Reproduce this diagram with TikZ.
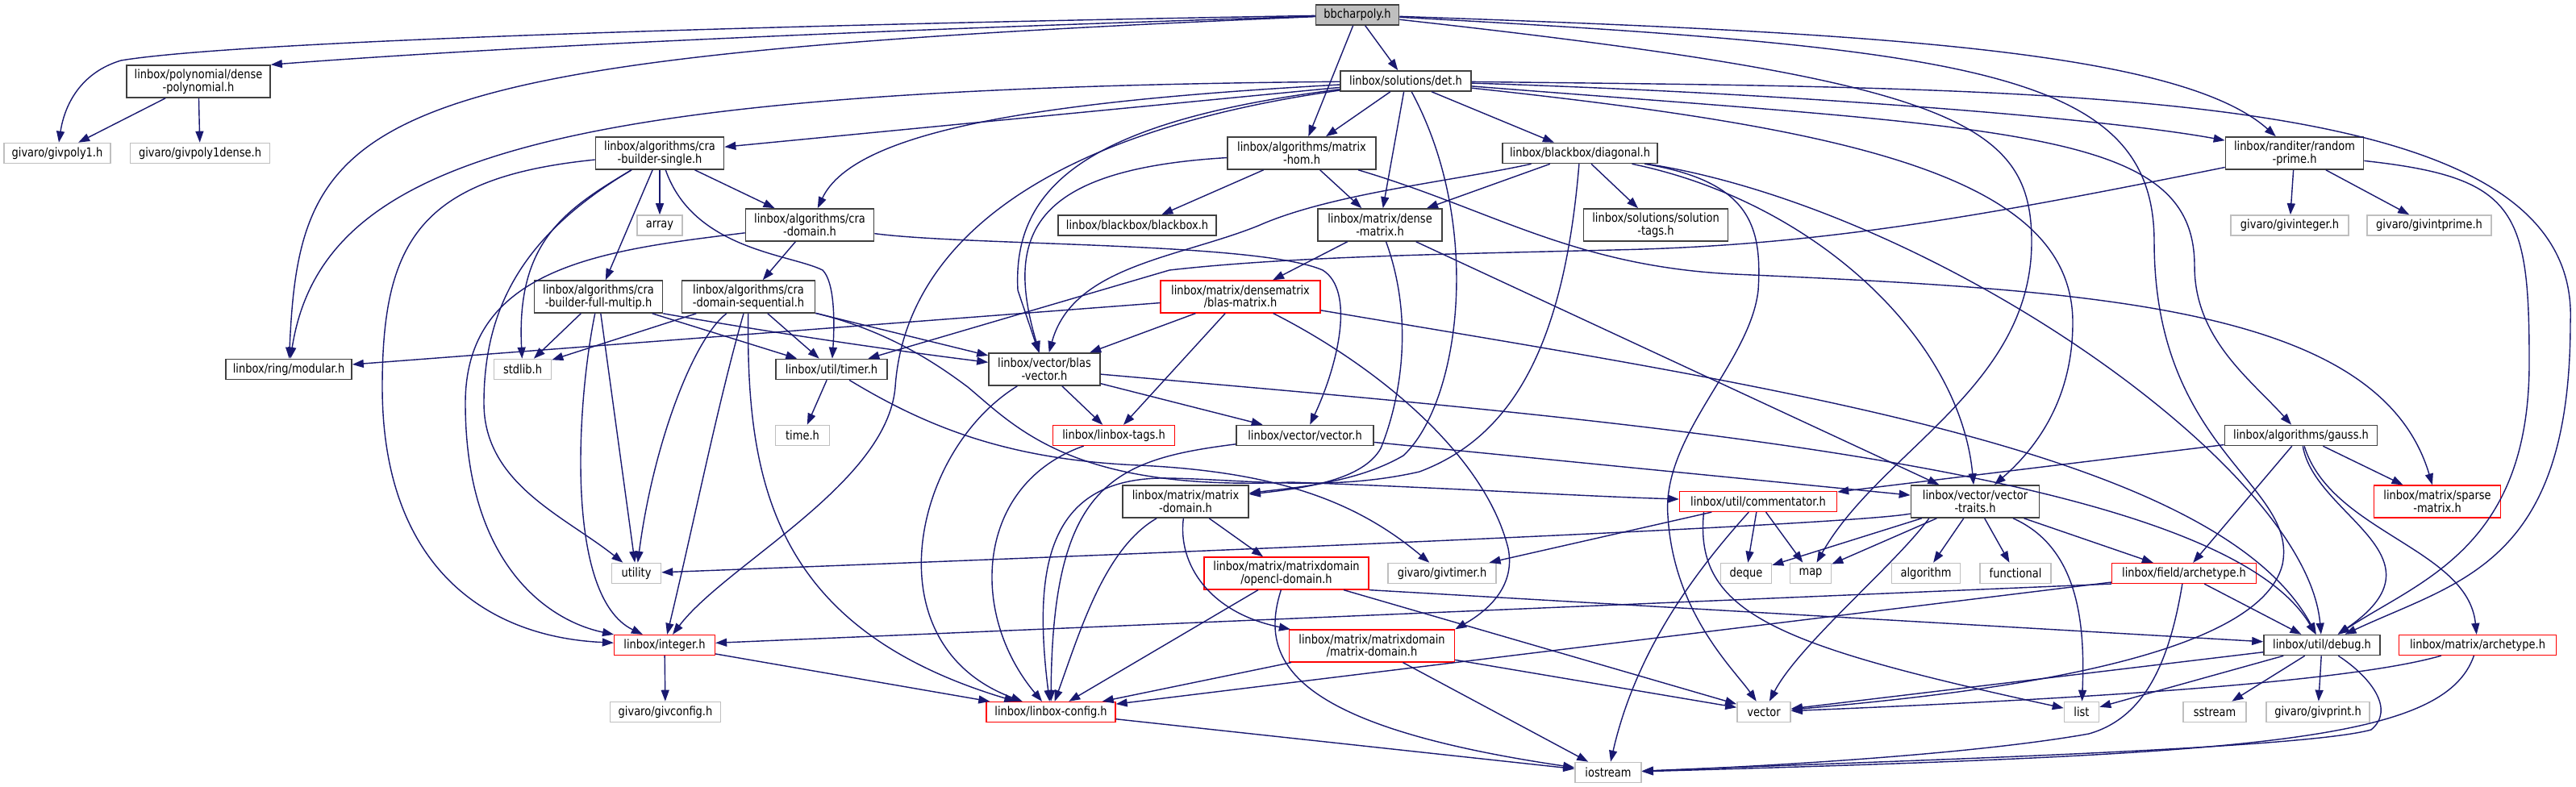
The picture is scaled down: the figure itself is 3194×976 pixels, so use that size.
\documentclass[tikz,border=0pt]{standalone}
\usepackage{fontspec}
\usepackage{tikz}
\usetikzlibrary{arrows.meta}
\newfontfamily\dotfont{DejaVu Sans}[FakeStretch=0.85]
\definecolor{DGEdge}{HTML}{191970}
\definecolor{DGFrame}{HTML}{404040}
\definecolor{DGSys}{HTML}{BFBFBF}
\definecolor{DGRootFill}{HTML}{BFBFBF}
\definecolor{DGTrunc}{HTML}{FF0000}
\tikzset{
  hdr/.style={draw=DGFrame,line width=0.45pt,fill=white,inner sep=0pt,align=center,
              minimum height=0.25cm,font=\dotfont\fontsize{4.35}{4.45}\selectfont},
  tall/.style={minimum height=0.40cm},
  sys/.style={hdr,draw=DGSys},
  trunc/.style={hdr,draw=DGTrunc,line width=0.35pt},
  root/.style={hdr,fill=DGRootFill},
  inc/.style={-{Triangle[length=1.4mm,width=1.0mm]},DGEdge,line width=0.4pt},
}
\begin{document}
\begin{tikzpicture}[x=0.01cm,y=-0.01cm]
  \useasboundingbox (0,0) rectangle (3194,976);
  % the header itself and the first rows
  \node[root,minimum width=1.03cm] (bb) at (1683,18.5) {bbcharpoly.h};
  \node[hdr,tall,minimum width=1.78cm] (dpoly) at (246,101) {linbox/polynomial/dense\\-polynomial.h};
  \node[hdr,minimum width=1.62cm] (det) at (1743,100.5) {linbox/solutions/det.h};
  \node[sys,minimum width=1.32cm] (gpoly) at (71,190) {givaro/givpoly1.h};
  \node[sys,minimum width=1.73cm] (gpolyd) at (248,190) {givaro/givpoly1dense.h};
  \node[hdr,tall,minimum width=1.59cm] (crabs) at (818,190) {linbox/algorithms/cra\\-builder-single.h};
  \node[hdr,tall,minimum width=1.84cm] (mhom) at (1614,190) {linbox/algorithms/matrix\\-hom.h};
  \node[hdr,minimum width=1.92cm] (diag) at (1959,190) {linbox/blackbox/diagonal.h};
  \node[hdr,tall,minimum width=1.71cm] (rprime) at (2845,190) {linbox/randiter/random\\-prime.h};
  \node[sys,minimum width=0.56cm] (array) at (818,279.5) {array};
  \node[hdr,tall,minimum width=1.59cm] (cradom) at (1004,279) {linbox/algorithms/cra\\-domain.h};
  \node[hdr,minimum width=1.96cm] (bbox) at (1410,279.5) {linbox/blackbox/blackbox.h};
  \node[hdr,tall,minimum width=1.54cm] (dmat) at (1711,279) {linbox/matrix/dense\\-matrix.h};
  \node[hdr,tall,minimum width=1.79cm] (soltags) at (2053,279) {linbox/solutions/solution\\-tags.h};
  \node[sys,minimum width=1.46cm] (ginteger) at (2839,279.5) {givaro/givinteger.h};
  \node[sys,minimum width=1.54cm] (gintprime) at (3012,279.5) {givaro/givintprime.h};
  \node[hdr,tall,minimum width=1.59cm] (crafm) at (742,368) {linbox/algorithms/cra\\-builder-full-multip.h};
  \node[hdr,tall,minimum width=1.65cm] (craseq) at (928,368) {linbox/algorithms/cra\\-domain-sequential.h};
  \node[trunc,tall,minimum width=1.98cm] (blasmat) at (1538,368) {linbox/matrix/densematrix\\/blas-matrix.h};
  % middle rows
  \node[hdr,minimum width=1.56cm] (modular) at (358,458) {linbox/ring/modular.h};
  \node[sys,minimum width=0.71cm] (stdlib) at (648,458) {stdlib.h};
  \node[hdr,minimum width=1.38cm] (timer) at (1031,458) {linbox/util/timer.h};
  \node[hdr,tall,minimum width=1.38cm] (blasvec) at (1295,458) {linbox/vector/blas\\-vector.h};
  \node[sys,minimum width=0.67cm] (time) at (995,540) {time.h};
  \node[trunc,minimum width=1.51cm] (tags) at (1381,540) {linbox/linbox-tags.h};
  \node[hdr,minimum width=1.70cm] (vec) at (1618,540) {linbox/vector/vector.h};
  \node[hdr,minimum width=1.89cm] (gauss) at (2853,540) {linbox/algorithms/gauss.h};
  \node[hdr,tall,minimum width=1.56cm] (mdom) at (1470,622) {linbox/matrix/matrix\\-domain.h};
  \node[trunc,minimum width=1.95cm] (comm) at (2180,622) {linbox/util/commentator.h};
  \node[hdr,tall,minimum width=1.59cm] (vtraits) at (2449,622) {linbox/vector/vector\\-traits.h};
  \node[trunc,tall,minimum width=1.57cm] (sparse) at (3022,622) {linbox/matrix/sparse\\-matrix.h};
  \node[sys,minimum width=0.61cm] (utility) at (789,711) {utility};
  \node[trunc,tall,minimum width=2.04cm] (ocl) at (1595,711) {linbox/matrix/matrixdomain\\/opencl-domain.h};
  \node[sys,minimum width=1.34cm] (gtimer) at (1788,711) {givaro/givtimer.h};
  \node[sys,minimum width=0.63cm] (deque) at (2165,711) {deque};
  \node[sys,minimum width=0.51cm] (map) at (2245,711) {map};
  \node[sys,minimum width=0.85cm] (algorithm) at (2388,711) {algorithm};
  \node[sys,minimum width=0.88cm] (functional) at (2499,711) {functional};
  \node[trunc,minimum width=1.79cm] (farch) at (2708,711) {linbox/field/archetype.h};
  % bottom rows
  \node[trunc,minimum width=1.25cm] (integer) at (824,800) {linbox/integer.h};
  \node[trunc,tall,minimum width=2.05cm] (mdmd) at (1701,801) {linbox/matrix/matrixdomain\\/matrix-domain.h};
  \node[hdr,minimum width=1.44cm] (debug) at (2879,800) {linbox/util/debug.h};
  \node[trunc,minimum width=1.95cm] (march) at (3072,800) {linbox/matrix/archetype.h};
  \node[sys,minimum width=1.37cm] (gconfig) at (825,883) {givaro/givconfig.h};
  \node[trunc,minimum width=1.60cm] (config) at (1303,883) {linbox/linbox-config.h};
  \node[sys,minimum width=0.66cm] (vector) at (2187,883) {vector};
  \node[sys,minimum width=0.43cm] (list) at (2581,883) {list};
  \node[sys,minimum width=0.78cm] (sstream) at (2746,883) {sstream};
  \node[sys,minimum width=1.28cm] (gprint) at (2874,883) {givaro/givprint.h};
  \node[sys,minimum width=0.82cm] (iostream) at (1994,958) {iostream};

  % includes of bbcharpoly.h
  \draw[inc] (bb) .. controls (1000,30) and (300,50) .. (150,75) .. controls (100,90) and (80,130) .. (gpoly);
  \draw[inc] (bb) .. controls (1000,40) and (600,60) .. (dpoly.north east);
  \draw[inc] (bb) .. controls (450,70) and (372,130) .. (modular);
  \draw[inc] (bb) -- (det);
  \draw[inc] (bb) -- (mhom);
  \draw[inc] (bb) .. controls (2300,40) and (2700,60) .. (rprime);
  \draw[inc] (bb) .. controls (2420,100) and (2519,150) .. (2519,300) .. controls (2519,480) and (2330,560) .. (map);
  \draw[inc] (bb) .. controls (2450,60) and (2671,90) .. (2671,300) .. controls (2671,560) and (2850,600) .. (2830,700)
    .. controls (2800,820) and (2450,860) .. (vector);
  \draw[inc] (dpoly) -- (gpoly);
  \draw[inc] (dpoly) -- (gpolyd);

  % det.h
  \draw[inc] (det) -- (crabs);
  \draw[inc] (det) .. controls (1300,125) and (1060,160) .. (cradom);
  \draw[inc] (det) .. controls (700,110) and (400,190) .. (modular);
  \draw[inc] (det) -- (mhom);
  \draw[inc] (det) -- (dmat);
  \draw[inc] (det) -- (diag);
  \draw[inc] (det) .. controls (1350,150) and (1255,230) .. (1262,360) -- (blasvec);
  \draw[inc] (det) .. controls (1840,280) and (1810,500) .. (1740,565) .. controls (1680,600) and (1600,605) .. (mdom);
  \draw[inc] (det) .. controls (2200,115) and (2600,145) .. (rprime);
  \draw[inc] (det) .. controls (2500,160) and (2721,160) .. (2721,330) .. controls (2721,420) and (2790,470) .. (gauss);
  \draw[inc] (det) .. controls (2300,160) and (2570,220) .. (2570,400) .. controls (2570,500) and (2520,560) .. (vtraits);
  \draw[inc] (det) .. controls (2600,110) and (3200,110) .. (3187,400) .. controls (3187,700) and (3050,720) .. (debug);
  \draw[inc] (det) .. controls (1250,170) and (1120,330) .. (1110,480) .. controls (1100,600) and (900,700) .. (integer);

  % cra builders and domains
  \draw[inc] (crabs) -- (array);
  \draw[inc] (crabs) -- (cradom);
  \draw[inc] (crabs) -- (crafm);
  \draw[inc] (crabs) .. controls (700,260) and (640,300) .. (stdlib);
  \draw[inc] (crabs) .. controls (860,310) and (980,315) .. (1020,335) .. controls (1035,350) and (1035,400) .. (timer);
  \draw[inc] (crabs) .. controls (650,290) and (600,380) .. (600,500) .. controls (600,600) and (700,640) .. (utility);
  \draw[inc] (crabs) .. controls (520,220) and (474,300) .. (474,480) .. controls (474,700) and (600,790) .. (integer);
  \draw[inc] (cradom) -- (craseq);
  \draw[inc] (cradom) .. controls (750,310) and (577,330) .. (577,500) .. controls (577,700) and (680,770) .. (integer);
  \draw[inc] (cradom) .. controls (1200,305) and (1560,300) .. (1640,335) .. controls (1680,360) and (1660,450) .. (vec);
  \draw[inc] (crafm) -- (stdlib);
  \draw[inc] (crafm) -- (timer);
  \draw[inc] (crafm.south east) .. controls (1000,420) and (1150,440) .. (blasvec);
  \draw[inc] (crafm) -- (utility);
  \draw[inc] (crafm) .. controls (715,500) and (700,740) .. (integer);
  \draw[inc] (craseq) -- (stdlib);
  \draw[inc] (craseq) -- (timer);
  \draw[inc] (craseq) -- (blasvec);
  \draw[inc] (craseq) .. controls (860,420) and (810,550) .. (utility);
  \draw[inc] (craseq) .. controls (890,500) and (860,650) .. (integer);
  \draw[inc] (craseq) .. controls (925,600) and (960,780) .. (config);
  \draw[inc] (craseq) .. controls (1100,410) and (1160,450) .. (1200,480) .. controls (1260,530) and (1330,610) .. (1600,598)
    .. controls (1800,605) and (1950,615) .. (comm);

  % matrix-hom.h, diagonal.h, random-prime.h
  \draw[inc] (mhom) -- (bbox);
  \draw[inc] (mhom) -- (dmat);
  \draw[inc] (mhom) .. controls (1280,210) and (1245,290) .. (blasvec);
  \draw[inc] (mhom) .. controls (1850,260) and (1950,330) .. (2150,340) .. controls (2600,360) and (2950,380) .. (sparse);
  \draw[inc] (diag) -- (dmat);
  \draw[inc] (diag) -- (soltags);
  \draw[inc] (diag) .. controls (1800,225) and (1650,240) .. (1560,280) .. controls (1460,320) and (1330,330) .. (blasvec);
  \draw[inc] (diag) .. controls (2250,250) and (2430,420) .. (vtraits);
  \draw[inc] (diag) .. controls (2400,260) and (2860,580) .. (debug);
  \draw[inc] (diag) .. controls (2170,225) and (2185,280) .. (2180,360) .. controls (2170,450) and (2060,540) .. (2068,640)
    .. controls (2075,760) and (2150,830) .. (vector);
  \draw[inc] (diag) .. controls (1940,420) and (1880,540) .. (1760,585) .. controls (1650,610) and (1550,595) .. (1450,593)
    .. controls (1300,590) and (1280,700) .. (config);
  \draw[inc] (rprime) -- (ginteger);
  \draw[inc] (rprime) -- (gintprime);
  \draw[inc] (rprime) .. controls (2450,270) and (2250,305) .. (2000,310) .. controls (1800,315) and (1600,318) .. (1450,335) -- (timer);
  \draw[inc] (rprime) .. controls (3120,220) and (3136,260) .. (3136,450) .. controls (3136,680) and (3000,720) .. (debug);

  % dense matrices and vectors
  \draw[inc] (dmat) -- (blasmat);
  \draw[inc] (dmat) -- (vtraits);
  \draw[inc] (dmat) .. controls (1755,400) and (1735,500) .. (1712,556) .. controls (1690,595) and (1620,605) .. (mdom);
  \draw[inc] (blasmat) -- (modular);
  \draw[inc] (blasmat) -- (blasvec);
  \draw[inc] (blasmat) -- (tags);
  \draw[inc] (blasmat) .. controls (1700,450) and (1840,560) .. (1870,680) .. controls (1880,730) and (1840,760) .. (mdmd.north east);
  \draw[inc] (blasmat) .. controls (2200,480) and (2750,560) .. (debug);
  \draw[inc] (timer) -- (time);
  \draw[inc] (timer) .. controls (1150,530) and (1250,570) .. (1412,577) .. controls (1580,585) and (1680,620) .. (gtimer);
  \draw[inc] (blasvec) -- (tags);
  \draw[inc] (blasvec) -- (vec);
  \draw[inc] (blasvec) .. controls (1130,560) and (1080,800) .. (config);
  \draw[inc] (blasvec) .. controls (2000,520) and (2750,580) .. (debug);
  \draw[inc] (tags) .. controls (1210,600) and (1200,760) .. (config);
  \draw[inc] (vec) -- (vtraits);
  \draw[inc] (vec) .. controls (1380,570) and (1305,600) .. (config);
  \draw[inc] (mdom) -- (ocl);
  \draw[inc] (mdom) .. controls (1460,700) and (1500,760) .. (mdmd);
  \draw[inc] (mdom) .. controls (1370,680) and (1340,780) .. (config);

  % gauss.h, commentator.h, vector-traits.h
  \draw[inc] (gauss) -- (comm);
  \draw[inc] (gauss) -- (sparse);
  \draw[inc] (gauss) -- (farch);
  \draw[inc] (gauss) .. controls (2870,640) and (3040,690) .. (debug);
  \draw[inc] (gauss) .. controls (2890,660) and (3060,680) .. (march);
  \draw[inc] (comm) -- (deque);
  \draw[inc] (comm) -- (map);
  \draw[inc] (comm) -- (gtimer);
  \draw[inc] (comm) .. controls (2110,700) and (2030,800) .. (iostream);
  \draw[inc] (comm.191) .. controls (2100,760) and (2200,800) .. (list);
  \draw[inc] (vtraits) -- (deque);
  \draw[inc] (vtraits) -- (map);
  \draw[inc] (vtraits) -- (algorithm);
  \draw[inc] (vtraits) -- (functional);
  \draw[inc] (vtraits) -- (farch);
  \draw[inc] (vtraits) .. controls (2580,680) and (2585,780) .. (list);
  \draw[inc] (vtraits.200) .. controls (2350,700) and (2230,800) .. (vector);
  \draw[inc] (vtraits) .. controls (2300,650) and (1600,680) .. (utility);

  % lowest headers
  \draw[inc] (farch.south west) -- (integer);
  \draw[inc] (farch) -- (config);
  \draw[inc] (farch) -- (debug);
  \draw[inc] (farch) .. controls (2690,820) and (2660,890) .. (2590,910) .. controls (2450,935) and (2200,950) .. (iostream);
  \draw[inc] (integer) -- (gconfig);
  \draw[inc] (integer) -- (config);
  \draw[inc] (mdmd) -- (config);
  \draw[inc] (mdmd) -- (vector);
  \draw[inc] (mdmd) -- (iostream);
  \draw[inc] (ocl) -- (config);
  \draw[inc] (ocl) -- (vector);
  \draw[inc] (ocl.south east) -- (debug);
  \draw[inc] (ocl) .. controls (1560,820) and (1600,900) .. (iostream);
  \draw[inc] (debug) -- (vector);
  \draw[inc] (debug) -- (list);
  \draw[inc] (debug) -- (sstream);
  \draw[inc] (debug) -- (gprint);
  \draw[inc] (debug) .. controls (2940,840) and (2970,880) .. (2940,905) .. controls (2850,930) and (2300,945) .. (iostream);
  \draw[inc] (march) .. controls (2900,850) and (2500,870) .. (vector);
  \draw[inc] (march) .. controls (3030,920) and (2800,935) .. (iostream);
  \draw[inc] (config) -- (iostream);
\end{tikzpicture}
\end{document}
